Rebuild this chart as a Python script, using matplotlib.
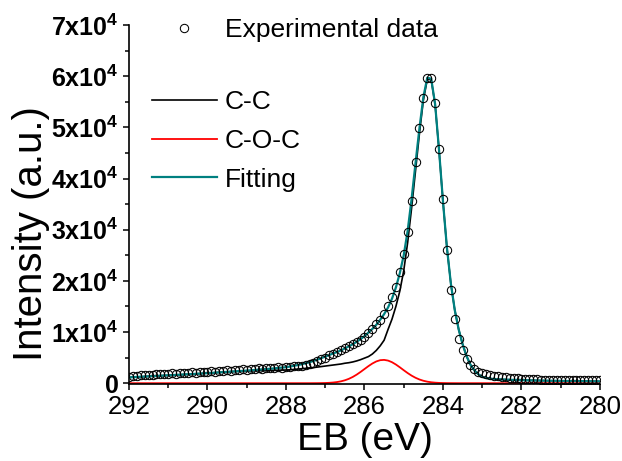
import numpy as np
import matplotlib
matplotlib.use('Agg')
import matplotlib.pyplot as plt
from matplotlib.lines import Line2D
from matplotlib.ticker import MultipleLocator, FixedLocator, FixedFormatter

plt.rcParams['font.family'] = ['Liberation Sans', 'DejaVu Sans']
plt.rcParams['mathtext.fontset'] = 'custom'
plt.rcParams['mathtext.rm'] = 'Liberation Sans'
plt.rcParams['mathtext.bf'] = 'Liberation Sans:bold'

# binding energy scan, 280.0 ... 292.0 eV in 0.1 eV steps
energy = np.round(np.arange(280.0, 292.05, 0.1), 1)

# measured C1s counts (one row per eV)
exp_data = [
    550, 570, 540, 580, 600, 570, 610, 590, 630, 610,
    650, 640, 680, 660, 720, 700, 760, 780, 820, 860,
    900, 950, 1010, 1080, 1160, 1250, 1370, 1490, 1630, 1800,
    2000, 2250, 2800, 3550, 4700, 6500, 8700, 12500, 18300, 26100,
    35900, 45800, 54700, 59600, 59700, 55800, 49900, 43200, 35700, 29500,
    25300, 21700, 18800, 16800, 15000, 13600, 12400, 11600, 10500, 9900,
    9000, 8500, 8000, 7600, 7200, 6900, 6500, 6100, 5800, 5500,
    5000, 4800, 4300, 3900, 3800, 3500, 3450, 3400, 3300, 3100,
    3200, 3050, 3150, 3000, 2900, 3000, 2850, 2900, 2750, 2800,
    2650, 2700, 2550, 2600, 2450, 2500, 2350, 2400, 2250, 2300,
    2200, 2150, 2100, 2050, 2100, 1950, 2000, 1900, 1850, 1900,
    1800, 1750, 1700, 1750, 1600, 1650, 1550, 1600, 1450, 1500,
    1300,
]

# C-C component
cc_fit = [
    350, 360, 370, 380, 390, 400, 410, 420, 430, 440,
    450, 460, 470, 480, 495, 510, 525, 540, 560, 580,
    600, 620, 645, 670, 700, 730, 770, 820, 880, 1000,
    1250, 1750, 2500, 3600, 5300, 7600, 10500, 14300, 19490, 26485,
    35470, 45440, 54400, 59300, 59400, 55300, 48800, 41500, 34200, 27500,
    22000, 18000, 15000, 12500, 10500, 8400, 7300, 6400, 5700, 5200,
    4900, 4600, 4350, 4150, 4000, 3900, 3750, 3650, 3550, 3450,
    3350, 3250, 3150, 3050, 2980, 2900, 2830, 2760, 2690, 2620,
    2580, 2560, 2540, 2520, 2500, 2480, 2460, 2440, 2420, 2400,
    2380, 2350, 2320, 2290, 2260, 2210, 2160, 2110, 2060, 2010,
    1960, 1915, 1870, 1825, 1780, 1740, 1700, 1660, 1620, 1580,
    1540, 1500, 1460, 1420, 1380, 1340, 1300, 1260, 1220, 1180,
    1140,
]

# C-O-C component
coc_fit = [
    0, 0, 0, 0, 0, 0, 0, 0, 0, 0,
    0, 0, 0, 0, 0, 0, 0, 0, 0, 0,
    0, 0, 0, 0, 0, 0, 0, 0, 0, 0,
    0, 0, 0, 0, 0, 0, 0, 4, 8, 15,
    30, 57, 104, 180, 300, 477, 726, 1060, 1480, 1980,
    2535, 3110, 3650, 4105, 4420, 4555, 4497, 4250, 3845, 3333,
    2766, 2198, 1672, 1218, 849, 567, 363, 222, 130, 73,
    39, 20, 10, 5, 0, 0, 0, 0, 0, 0,
    0, 0, 0, 0, 0, 0, 0, 0, 0, 0,
    0, 0, 0, 0, 0, 0, 0, 0, 0, 0,
    0, 0, 0, 0, 0, 0, 0, 0, 0, 0,
    0, 0, 0, 0, 0, 0, 0, 0, 0, 0,
    0,
]

# total fitting envelope
total_fit = [
    350, 360, 370, 380, 390, 400, 410, 420, 430, 440,
    450, 460, 470, 480, 495, 510, 525, 540, 560, 580,
    600, 620, 645, 670, 700, 730, 770, 820, 880, 1000,
    1250, 1750, 2500, 3600, 5300, 7600, 10500, 14300, 19500, 26500,
    35500, 45500, 54500, 59500, 59700, 55900, 49800, 43000, 36000, 29800,
    25000, 21500, 18700, 16500, 14800, 13500, 12400, 11400, 10600, 9900,
    9200, 8600, 8100, 7600, 7200, 6800, 6400, 6100, 5800, 5500,
    5200, 4900, 4600, 4350, 4100, 3900, 3700, 3550, 3400, 3250,
    3130, 3050, 2980, 2900, 2830, 2760, 2700, 2640, 2580, 2520,
    2460, 2410, 2360, 2310, 2260, 2210, 2160, 2110, 2060, 2010,
    1960, 1915, 1870, 1825, 1780, 1740, 1700, 1660, 1620, 1580,
    1540, 1500, 1460, 1420, 1380, 1340, 1300, 1260, 1220, 1180,
    1140,
]

ytick_vals = [0, 10000, 20000, 30000, 40000, 50000, 60000, 70000]
ytick_text = ['0'] + [r'$\mathbf{%dx10^{4}}$' % k for k in range(1, 8)]

teal = '#008080'

fig = plt.figure(figsize=(6.22, 4.61), dpi=100)
ax = fig.add_axes([0.2074, 0.166, 0.7572, 0.7798])

ax.plot(energy, cc_fit, color='black', lw=1.2, zorder=2)
ax.plot(energy, coc_fit, color='red', lw=1.3, zorder=2)
ax.plot(energy, total_fit, color=teal, lw=1.6, zorder=3)
ax.plot(energy, exp_data, ls='none', marker='o', ms=6, mfc='none',
        mec='black', mew=0.75, zorder=4)

ax.set_xlim(292, 280)
ax.set_ylim(-250, 70000)

ax.xaxis.set_major_locator(MultipleLocator(2))
ax.xaxis.set_minor_locator(MultipleLocator(1))
ax.yaxis.set_major_locator(FixedLocator(ytick_vals))
ax.yaxis.set_major_formatter(FixedFormatter(ytick_text))
ax.yaxis.set_minor_locator(MultipleLocator(5000))

for s in ['top', 'right']:
    ax.spines[s].set_visible(False)
for s in ['left', 'bottom']:
    ax.spines[s].set_linewidth(1.2)

ax.tick_params(axis='both', which='major', direction='out', length=4.5, width=1.1)
ax.tick_params(axis='both', which='minor', direction='out', length=2.8, width=1.1)
ax.tick_params(axis='x', which='major', labelsize=18.5, pad=3)
ax.tick_params(axis='y', which='major', labelsize=18, pad=3)
for lab in ax.get_yticklabels():
    lab.set_fontweight('bold')

ax.set_xlabel('EB (eV)', fontsize=28, labelpad=2)
ax.set_ylabel('Intensity (a.u.)', fontsize=29)
ax.yaxis.set_label_coords(-0.168, 0.42)

# legends
h_data = [Line2D([], [], ls='none', marker='o', ms=6, mfc='none', mec='black', mew=0.75)]
leg1 = fig.legend(h_data, ['Experimental data'], loc='center left',
                  bbox_to_anchor=(152 / 622, 1 - 30 / 461), frameon=False,
                  fontsize=19, handlelength=2.46, handletextpad=0.3,
                  borderpad=0, borderaxespad=0)
h_lines = [Line2D([], [], color='black', lw=1.2),
           Line2D([], [], color='red', lw=1.3),
           Line2D([], [], color=teal, lw=1.6)]
leg2 = fig.legend(h_lines, ['C-C', 'C-O-C', 'Fitting'], loc='center left',
                  bbox_to_anchor=(152 / 622, 1 - 141 / 461), frameon=False,
                  fontsize=19, handlelength=2.46, handletextpad=0.3,
                  labelspacing=0.55, borderpad=0, borderaxespad=0)

fig.savefig('out.png', dpi=100)
